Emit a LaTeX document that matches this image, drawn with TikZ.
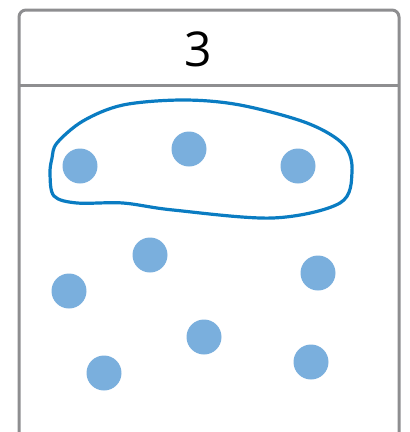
\documentclass[tikz,border=0pt]{standalone}
\usepackage{fontspec}
\setmainfont{Open Sans}
\definecolor{framegray}{HTML}{8E8E90}
\definecolor{dotblue}{HTML}{7AAFDD}
\definecolor{lineblue}{HTML}{0A7CC2}
\begin{document}
\begin{tikzpicture}[x=1pt,y=-1pt,
  dot/.style={circle,fill=dotblue,inner sep=0pt,minimum size=35pt},
  frame/.style={draw=framegray,line width=3pt}]
\useasboundingbox (0,0) rectangle (410,432);
\clip (0,0) rectangle (410,432);
\draw[frame,rounded corners=7pt] (19,10) rectangle (399,460);
\draw[frame] (19,85) -- (399,85);
\node[font=\fontsize{48}{48}\selectfont\addfontfeature{Scale=1}] (title) at (198,49) {3};
\node[dot] (d1) at (80,166) {};
\node[dot] (d2) at (189,149) {};
\node[dot] (d3) at (298,166) {};
\node[dot] (d4) at (150,255) {};
\node[dot] (d5) at (69,291) {};
\node[dot] (d6) at (318,273) {};
\node[dot] (d7) at (204,337) {};
\node[dot] (d8) at (104,373) {};
\node[dot] (d9) at (311,362) {};
\draw[lineblue,line width=3.2pt] plot[smooth cycle,tension=0.55] coordinates
 {(57,143) (83,121) (123,105) (183,100) (240,105) (307,123) (344,145) (352,172) (340,203) (273,218) (173,210) (123,203) (77,203) (54,196) (50,174) (52,158)};
\end{tikzpicture}
\end{document}
